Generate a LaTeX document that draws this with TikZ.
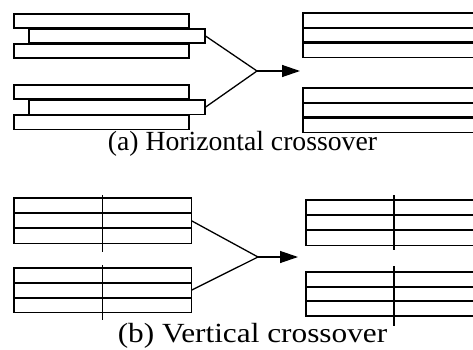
\documentclass[tikz,border=0pt]{standalone}
\usepackage{fontspec}
\setmainfont{Liberation Serif}
\usetikzlibrary{arrows.meta,calc}
\begin{document}
\begin{tikzpicture}[x=1pt,y=-1pt,
  bar/.style={draw, line width=1.6pt, inner sep=0pt, minimum height=14.5pt, anchor=north west},
  block/.style={inner sep=0pt, anchor=north west},
  edge/.style={line width=1.3pt},
  divider/.style={line width=2.2pt},
  conn/.style={line width=1.3pt},
  arrowline/.style={line width=1.3pt, -{Triangle[length=18pt,width=12pt]}},
  caption/.style={font=\fontsize{27.7}{30}\selectfont, inner sep=0pt}]
\useasboundingbox (0,0) rectangle (473,350);
\clip (0,0) rectangle (473,350);

% ---------- (a) horizontal crossover ----------
% left: two stacks of three staggered bars
\node[bar, minimum width=175pt] (a1t) at (13,13) {};
\node[bar, minimum width=176pt] (a1m) at (28,28) {};
\node[bar, minimum width=175pt] (a1b) at (13,43) {};
\node[bar, minimum width=175pt] (a2t) at (13,84) {};
\node[bar, minimum width=176pt] (a2m) at (28,99) {};
\node[bar, minimum width=175pt] (a2b) at (13,114) {};

\coordinate (apexA) at (257,71);
\coordinate (tipA) at (300,71);
\draw[conn] (a1m.east) -- (apexA) -- (a2m.east);
\draw[arrowline] (apexA) -- (tipA);

% right: merged three-row blocks running off the edge
\node[block, minimum width=180pt, minimum height=44pt] (ra1) at (303,13) {};
\node[block, minimum width=180pt, minimum height=44pt] (ra2) at (303,88) {};
\foreach \b in {ra1,ra2}{
  \draw[edge] (\b.north east) -- (\b.north west) -- (\b.south west) -- (\b.south east);
  \draw[divider] ($(\b.north west)!1/3!(\b.south west)$) -- ($(\b.north east)!1/3!(\b.south east)$);
  \draw[divider] ($(\b.north west)!2/3!(\b.south west)$) -- ($(\b.north east)!2/3!(\b.south east)$);
}

\node[caption] (capA) at (242.5,144) {(a) Horizontal crossover};

% ---------- (b) vertical crossover ----------
\node[block, minimum width=177pt, minimum height=45pt] (lb1) at (14,198) {};
\node[block, minimum width=177pt, minimum height=44pt] (lb2) at (14,268) {};
\foreach \b in {lb1,lb2}{
  \draw[edge] (\b.north west) rectangle (\b.south east);
  \draw[divider] ($(\b.north west)!1/3!(\b.south west)$) -- ($(\b.north east)!1/3!(\b.south east)$);
  \draw[divider] ($(\b.north west)!2/3!(\b.south west)$) -- ($(\b.north east)!2/3!(\b.south east)$);
}
\draw[edge] ([yshift=3pt]$(lb1.north west)!0.5!(lb1.north east)$) -- ([yshift=-9pt]$(lb1.south west)!0.5!(lb1.south east)$);
\draw[edge] ([yshift=3pt]$(lb2.north west)!0.5!(lb2.north east)$) -- ([yshift=-8pt]$(lb2.south west)!0.5!(lb2.south east)$);

\coordinate (apexB) at (258,257);
\coordinate (tipB) at (298,257);
\draw[conn] (lb1.east) -- (apexB) -- (lb2.east);
\draw[arrowline] (apexB) -- (tipB);

\node[block, minimum width=180pt, minimum height=45pt] (rb1) at (306,200) {};
\node[block, minimum width=180pt, minimum height=43.5pt] (rb2) at (306,272) {};
\foreach \b in {rb1,rb2}{
  \draw[edge] (\b.north east) -- (\b.north west) -- (\b.south west) -- (\b.south east);
  \draw[divider] ($(\b.north west)!1/3!(\b.south west)$) -- ($(\b.north east)!1/3!(\b.south east)$);
  \draw[divider] ($(\b.north west)!2/3!(\b.south west)$) -- ($(\b.north east)!2/3!(\b.south east)$);
}
\draw[divider] ([xshift=88pt,yshift=5pt]rb1.north west) -- ([xshift=88pt,yshift=-5pt]rb1.south west);
\draw[divider] ([xshift=88pt,yshift=6pt]rb2.north west) -- ([xshift=88pt,yshift=-10pt]rb2.south west);

\node[caption] (capB) at (252.5,336) {\scalebox{1.13}[1]{(b) Vertical crossover}};
\end{tikzpicture}
\end{document}
